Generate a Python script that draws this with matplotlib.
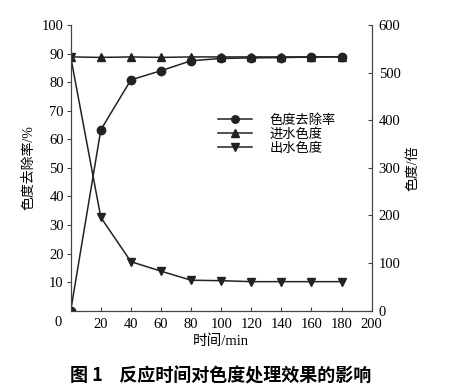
import numpy as np
import matplotlib.pyplot as plt

plt.rcParams['font.family'] = ['Liberation Serif', 'Noto Sans CJK SC']

time_min = [0, 20, 40, 60, 80, 100, 120, 140, 160, 180]
removal_rate = [0, 63.3, 80.8, 84.0, 87.5, 88.3, 88.5, 88.6, 88.8, 88.9]
inflow_color = [533, 532, 533, 532, 533, 533, 533, 533, 533, 533]
outflow_color = [533, 196, 103, 83, 64, 63, 61, 61, 61, 61]

fig = plt.figure(figsize=(4.55, 3.91), dpi=100)
ax = fig.add_axes([0.1554, 0.2054, 0.6615, 0.7306])
ax2 = ax.twinx()

c = '#222222'
l1, = ax.plot(time_min, removal_rate, color=c, lw=1.1, marker='o', ms=6, label='色度去除率')
l2, = ax2.plot(time_min, inflow_color, color=c, lw=1.1, marker='^', ms=6, label='进水色度')
l3, = ax2.plot(time_min, outflow_color, color=c, lw=1.1, marker='v', ms=6, label='出水色度')

ax.set_xlim(0, 200)
ax.set_ylim(0, 100)
ax2.set_ylim(0, 600)
ax.set_xticks(np.arange(20, 201, 20))
ax.set_yticks(np.arange(10, 101, 10))
ax2.set_yticks(np.arange(0, 601, 100))

for a in (ax, ax2):
    a.spines['top'].set_visible(False)
    for s in a.spines.values():
        s.set_color('#444444')
ax.tick_params(axis='x', direction='in', length=3, labelsize=10.5, pad=5, color='#444444')
ax.tick_params(axis='y', direction='out', length=3, labelsize=10.5, pad=2, color='#444444')
ax2.tick_params(axis='y', direction='in', length=3, labelsize=10.5, pad=5, color='#444444')

fig.text(58 / 455, 1 - 323 / 391, '0', fontsize=10.5, ha='center', va='center')

ax.set_xlabel('时间/min', fontsize=10.5, labelpad=3)
ax.set_ylabel('色度去除率/%', fontsize=10, labelpad=5)
ax2.set_ylabel('色度/倍', fontsize=10, labelpad=4)

ax.legend(handles=[l1, l2, l3], loc='upper left', bbox_to_anchor=(0.489, 0.688),
          frameon=False, fontsize=9.5, handlelength=2.6, labelspacing=0.12,
          handletextpad=1.3, borderpad=0, borderaxespad=0, markerscale=0.9)

fig.text(0.484, 1 - 376 / 391, '图 1    反应时间对色度处理效果的影响',
         fontsize=13, fontweight='bold', ha='center', va='center',
         family=['Noto Sans CJK SC', 'DejaVu Sans'])

fig.savefig('out.png', dpi=100)
